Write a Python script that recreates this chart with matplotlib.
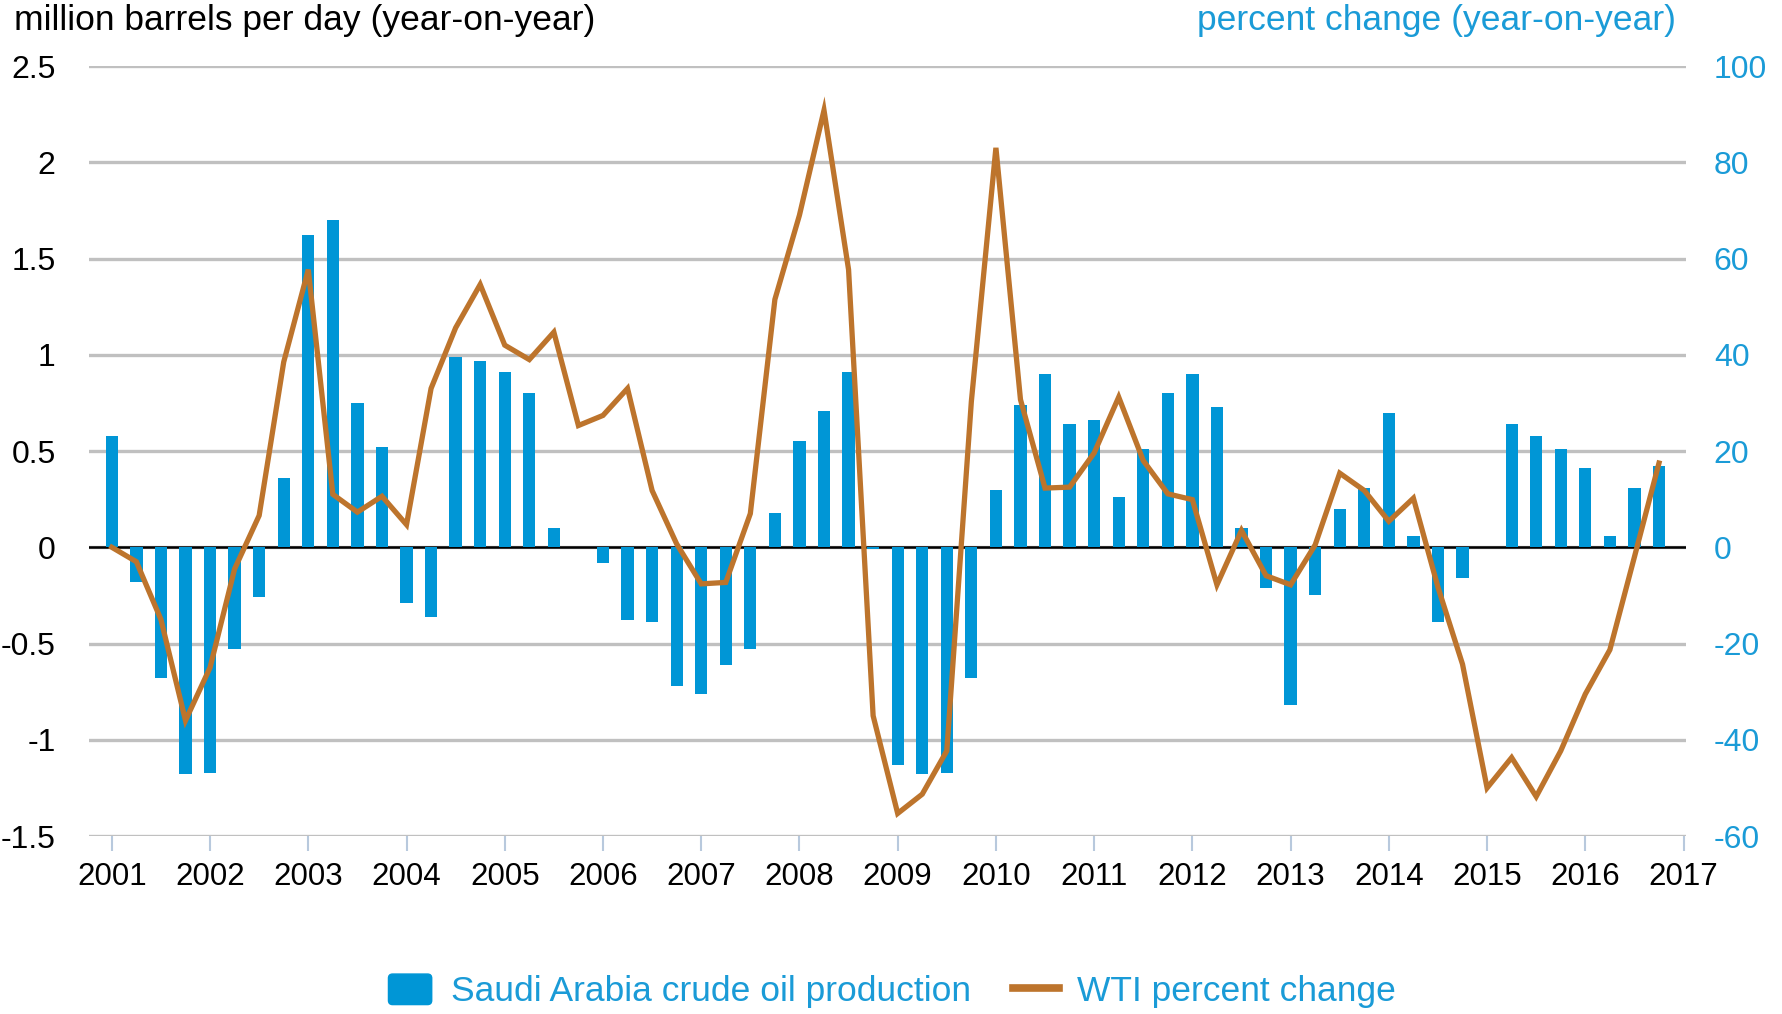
import matplotlib
matplotlib.use("Agg")
import matplotlib.pyplot as plt
import numpy as np
from matplotlib.patches import FancyBboxPatch
from matplotlib.lines import Line2D
from matplotlib.legend_handler import HandlerPatch

plt.rcParams['font.family'] = ['Liberation Sans', 'DejaVu Sans']
plt.rcParams['axes.unicode_minus'] = False

# quarterly, 2001 Q1 .. 2016 Q4
saudi_prod = [0.58, -0.18, -0.68, -1.18,
              -1.17, -0.53, -0.26, 0.36,
              1.62, 1.70, 0.75, 0.52,
              -0.29, -0.36, 0.99, 0.97,
              0.91, 0.80, 0.10, 0.0,
              -0.08, -0.38, -0.39, -0.72,
              -0.76, -0.61, -0.53, 0.18,
              0.55, 0.71, 0.91, -0.01,
              -1.13, -1.18, -1.17, -0.68,
              0.30, 0.74, 0.90, 0.64,
              0.66, 0.26, 0.51, 0.80,
              0.90, 0.73, 0.10, -0.21,
              -0.82, -0.25, 0.20, 0.31,
              0.70, 0.06, -0.39, -0.16,
              0.0, 0.64, 0.58, 0.51,
              0.41, 0.06, 0.31, 0.42]

wti_pct = [0, -3, -15, -36,
           -25, -4.5, 6.6, 38.5,
           57.7, 11, 7.3, 10.6,
           4.7, 33, 45.6, 54.6,
           42, 39, 44.7, 25.3,
           27.4, 33, 11.8, 0.7,
           -7.6, -7.3, 7, 51.5,
           69, 90.8, 57.7, -35,
           -55.3, -51.3, -42.3, 30.3,
           83, 30.7, 12.3, 12.5,
           19.6, 31.2, 18, 11.1,
           9.9, -7.8, 3.5, -5.9,
           -7.8, 0.5, 15.4, 11.8,
           5.4, 10.2, -8.3, -24.3,
           -50, -43.7, -51.8, -42.3,
           -30.5, -21.3, -2, 17.5]

years = [str(y) for y in range(2001, 2018)]

blue = '#0096D6'
text_blue = '#1A9BD7'
orange = '#BD742C'

fig = plt.figure(figsize=(17.83, 10.14), dpi=100)
ax = fig.add_axes([0.0499, 0.1755, 0.8957, 0.7594])
ax2 = ax.twinx()

x = np.arange(len(saudi_prod))
bars = ax.bar(x, saudi_prod, width=0.5, color=blue, zorder=3)
ax2.plot(x, wti_pct, color=orange, lw=3.8, solid_joinstyle='miter')

ax.set_xlim(-0.93, 64.1)
ax.set_ylim(-1.5, 2.5)
ax2.set_ylim(-60, 100)

ax.set_yticks(np.arange(-1.5, 2.51, 0.5))
ax.set_yticklabels(['-1.5', '-1', '-0.5', '0', '0.5', '1', '1.5', '2', '2.5'])
ax2.set_yticks(np.arange(-60, 101, 20))

ax.set_xticks(np.arange(0, 65, 4))
ax.set_xticklabels(years)

ax.grid(axis='y', color='#C0C0C0', lw=2.4, zorder=0)
ax.set_axisbelow(True)
ax.axhline(0, color='black', lw=1.8, zorder=2)

for a in (ax, ax2):
    for s in a.spines.values():
        s.set_visible(False)

ax.tick_params(axis='y', length=0, pad=24, labelsize=23, colors='black')
ax.tick_params(axis='x', length=11, width=1.5, color='#B8C9DD', pad=8,
               labelsize=22.5, labelcolor='black')
ax2.tick_params(axis='y', length=0, pad=20, labelsize=23, labelcolor=text_blue)

fig.text(0.008, 0.98, 'million barrels per day (year-on-year)', fontsize=25.5,
         va='center', ha='left', color='black')
fig.text(0.940, 0.98, 'percent change (year-on-year)', fontsize=25.5,
         va='center', ha='right', color=text_blue)


def rounded_box(legend, orig_handle, xdescent, ydescent, width, height, fontsize):
    return FancyBboxPatch((-xdescent + 1, -ydescent), width - 2, height,
                          boxstyle='round,pad=0,rounding_size=3')


box_handle = FancyBboxPatch((0, 0), 1, 1, color=blue)
line_handle = Line2D([0], [0], color=orange, lw=5.5)

leg = fig.legend(handles=[box_handle, line_handle],
                 labels=['Saudi Arabia crude oil production', 'WTI percent change'],
                 handler_map={FancyBboxPatch: HandlerPatch(patch_func=rounded_box)},
                 loc='lower center', bbox_to_anchor=(0.5, -0.026),
                 ncol=2, frameon=False, fontsize=25.5, handlelength=1.3,
                 handleheight=0.95, columnspacing=1.2, handletextpad=0.5)
for t in leg.get_texts():
    t.set_color(text_blue)

fig.savefig('out.png', dpi=100)
